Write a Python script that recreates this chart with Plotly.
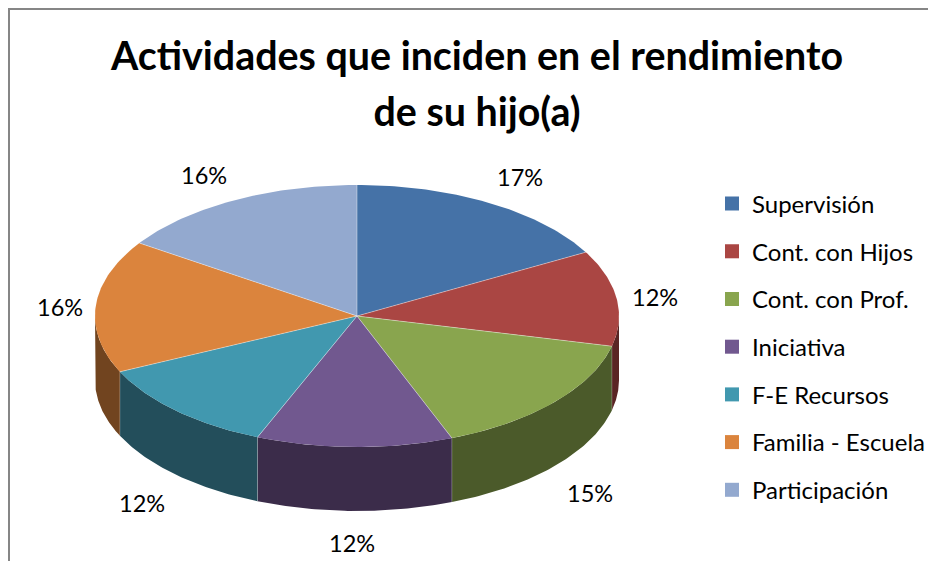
import math
import plotly.graph_objects as go

categories = ["Supervisión", "Cont. con Hijos", "Cont. con Prof.", "Iniciativa", "F-E Recursos", "Familia - Escuela", "Participación"]
values = [16.9, 11.8, 15.4, 12.1, 11.8, 16.4, 15.6]
top_colors = ["#4572A7", "#AA4643", "#89A54E", "#71588F", "#4198AF", "#DB843D", "#93A9CF"]
side_colors = ["#2A4465", "#5A2524", "#4B5A2A", "#3B2C4A", "#234E5B", "#71441F", "#4D5A70"]
label_shift = [(30, -26), (38, -1), (35, 27), (-3, 32), (-34, 28), (-36, 1), (-30, -25)]

# The page adds an 8 px body margin, so the figure is 928x553 and its axes run in page pixels.
W, H = 928, 553
CX, CY, RX, RY, DEPTH = 357, 316, 262, 131, 64
FONT = "Lato, Carlito, Calibri, sans-serif"


def pt(a, drop=0):
    r = math.radians(a)
    return CX + RX * math.sin(r), CY - RY * math.cos(r) + drop


def arc(a0, a1, drop=0, n=60):
    pts = [pt(a0 + (a1 - a0) * i / n, drop) for i in range(n + 1)]
    return [p[0] for p in pts], [p[1] for p in pts]


total = sum(values)
bounds = [0]
for v in values:
    bounds.append(bounds[-1] + v / total * 360)

fig = go.Figure()

# side walls (front half of the disc only)
for i in range(len(values)):
    a0, a1 = max(bounds[i], 90), min(bounds[i + 1], 270)
    if a1 <= a0:
        continue
    xu, yu = arc(a0, a1)
    xl, yl = arc(a1, a0, DEPTH)
    fig.add_trace(go.Scatter(x=xu + xl + xu[:1], y=yu + yl + yu[:1], mode="lines", fill="toself",
                             fillcolor=side_colors[i], line=dict(width=0), showlegend=False, hoverinfo="skip"))

# vertical edges between side walls
for b in bounds[1:-1]:
    if 90 < b < 270:
        x0, y0 = pt(b)
        x1, y1 = pt(b, DEPTH)
        fig.add_trace(go.Scatter(x=[x0, x1], y=[y0, y1], mode="lines",
                                 line=dict(width=1, color="rgba(255,255,255,0.22)"),
                                 showlegend=False, hoverinfo="skip"))

# top wedges
for i in range(len(values)):
    xs, ys = arc(bounds[i], bounds[i + 1])
    fig.add_trace(go.Scatter(x=[CX] + xs + [CX], y=[CY] + ys + [CY], mode="lines", fill="toself",
                             fillcolor=top_colors[i], line=dict(width=0), showlegend=False,
                             name=categories[i], hoverinfo="skip"))

# separators on the top face
for b in bounds[:-1]:
    x1, y1 = pt(b)
    fig.add_trace(go.Scatter(x=[CX, x1], y=[CY, y1], mode="lines",
                             line=dict(width=1, color="rgba(255,255,255,0.4)"),
                             showlegend=False, hoverinfo="skip"))

# legend entries
for i, c in enumerate(categories):
    fig.add_trace(go.Scatter(x=[None], y=[None], mode="markers", name=c, legendgroup=c,
                             marker=dict(symbol="square", size=14, color=top_colors[i])))

# percent labels
annotations = []
for i, v in enumerate(values):
    mid = (bounds[i] + bounds[i + 1]) / 2
    x, y = pt(mid, DEPTH if 90 < mid < 270 else 0)
    annotations.append(dict(x=x, y=y, xref="x", yref="y", text=f"{round(v / total * 100)}%", showarrow=False,
                            xshift=label_shift[i][0], yshift=-label_shift[i][1],
                            font=dict(family=FONT, size=23.5, color="#000000")))

title_text = ("<span style='font-size:39.4px'>Actividades que inciden en el rendimiento</span><br>"
              "<span style='font-size:39.4px'>de su hijo(a)</span>")

fig.update_layout(
    width=W, height=H, autosize=False,
    margin=dict(l=0, r=0, t=0, b=0, autoexpand=False),
    paper_bgcolor="#FFFFFF", plot_bgcolor="#FFFFFF",
    title=dict(text=title_text, x=469 / W, xanchor="center", y=1 - 62 / H, yanchor="top",
               font=dict(family=FONT, size=43, color="#000000", weight=700)),
    xaxis=dict(visible=False, range=[8, 936]),
    yaxis=dict(visible=False, range=[561, 8]),
    showlegend=True,
    legend=dict(x=704 / W, y=1 - 173.5 / H, xanchor="left", yanchor="top", tracegroupgap=13.5,
                itemwidth=30, bgcolor="rgba(0,0,0,0)", font=dict(family=FONT, size=24, color="#000000")),
    annotations=annotations,
    shapes=[
        dict(type="line", xref="paper", yref="paper", x0=1 / W, x1=1 / W, y0=0, y1=1,
             line=dict(color="#868686", width=2)),
        dict(type="line", xref="paper", yref="paper", x0=0, x1=1, y0=1 - 1 / H, y1=1 - 1 / H,
             line=dict(color="#868686", width=2)),
    ],
)

fig.write_html("out.html", config=dict(displayModeBar=False))
